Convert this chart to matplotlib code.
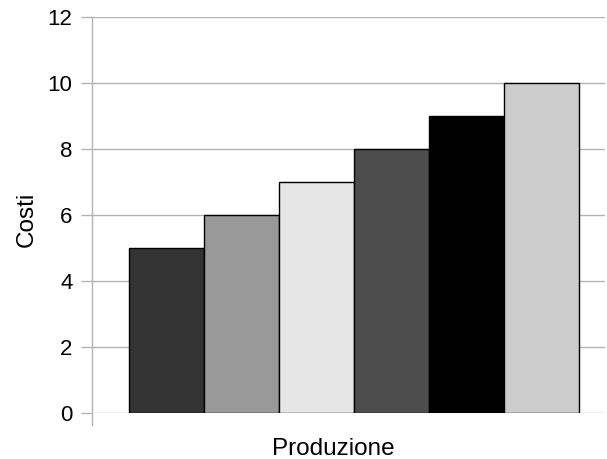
import numpy as np
import matplotlib.pyplot as plt

plt.rcParams['font.family'] = ['Liberation Sans', 'DejaVu Sans']

costi = [5, 6, 7, 8, 9, 10]
colori = ['#333333', '#999999', '#e6e6e6', '#4d4d4d', '#000000', '#cccccc']
y_ticks = [0, 2, 4, 6, 8, 10, 12]

fig = plt.figure(figsize=(6.07, 4.59), dpi=100)
ax = fig.add_axes([92/607, 1 - 413/459, 513/607, 396/459])

x = np.arange(len(costi))
ax.bar(x, costi, width=1.0, color=colori, edgecolor='black', linewidth=1, zorder=3)

ax.set_xlim(-0.993, 5.84)
ax.set_ylim(0, 12)
ax.set_yticks(y_ticks)
ax.set_xticks([])
ax.grid(axis='y', color='#b3b3b3', linewidth=1, zorder=0)
ax.tick_params(axis='y', length=8, color='#b3b3b3', width=1, labelsize=16, pad=6)
for s in ax.spines.values():
    s.set_visible(False)
# left axis line, running a bit below the plot
ax.plot([0, 0], [-12/396, 1], color='#b3b3b3', linewidth=1,
        transform=ax.transAxes, clip_on=False, zorder=2)

fig.text(333/607, 1 - 455/459, 'Produzione', fontsize=17.5, ha='center', va='baseline')
fig.text(15.5/607, 1 - 219/459, 'Costi', fontsize=17.5, rotation=90, ha='left', va='center')

fig.savefig('out.png', dpi=100)
